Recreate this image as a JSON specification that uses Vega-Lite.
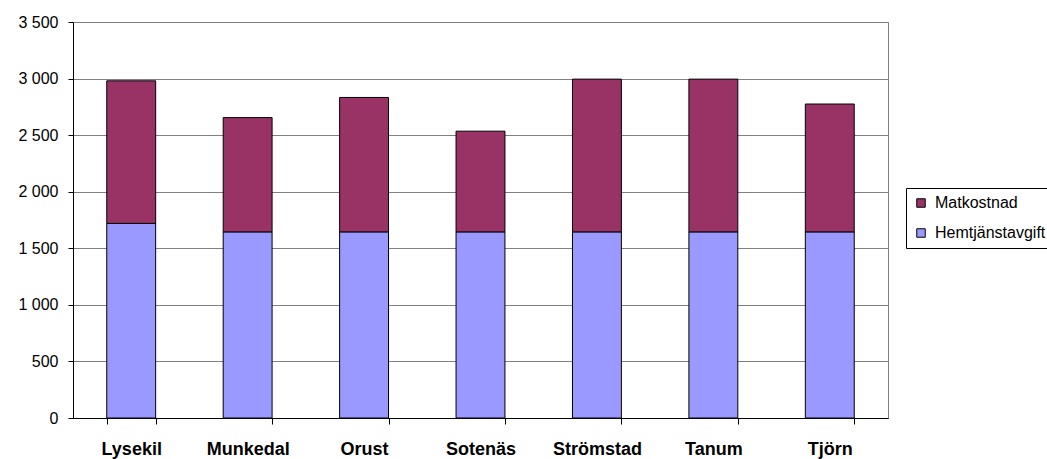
{
  "$schema": "https://vega.github.io/schema/vega-lite/v6.json",
  "autosize": "none",
  "width": 815,
  "height": 396,
  "padding": {"left": 73, "top": 22, "right": 159, "bottom": 41},
  "background": "white",
  "config": {
    "font": "Liberation Sans",
    "view": {"stroke": "#808080", "strokeWidth": 1}
  },
  "data": {
    "values": [
      {"kommun": "Lysekil", "serie": "Hemtjänstavgift", "belopp": 1720},
      {"kommun": "Lysekil", "serie": "Matkostnad", "belopp": 1260},
      {"kommun": "Munkedal", "serie": "Hemtjänstavgift", "belopp": 1645},
      {"kommun": "Munkedal", "serie": "Matkostnad", "belopp": 1010},
      {"kommun": "Orust", "serie": "Hemtjänstavgift", "belopp": 1645},
      {"kommun": "Orust", "serie": "Matkostnad", "belopp": 1188},
      {"kommun": "Sotenäs", "serie": "Hemtjänstavgift", "belopp": 1645},
      {"kommun": "Sotenäs", "serie": "Matkostnad", "belopp": 890},
      {"kommun": "Strömstad", "serie": "Hemtjänstavgift", "belopp": 1645},
      {"kommun": "Strömstad", "serie": "Matkostnad", "belopp": 1350},
      {"kommun": "Tanum", "serie": "Hemtjänstavgift", "belopp": 1645},
      {"kommun": "Tanum", "serie": "Matkostnad", "belopp": 1350},
      {"kommun": "Tjörn", "serie": "Hemtjänstavgift", "belopp": 1645},
      {"kommun": "Tjörn", "serie": "Matkostnad", "belopp": 1130}
    ]
  },
  "mark": {"type": "bar", "stroke": "black", "strokeWidth": 1},
  "encoding": {
    "x": {
      "field": "kommun",
      "type": "nominal",
      "sort": null,
      "scale": {"paddingInner": 0.58, "paddingOuter": 0.29},
      "axis": {
        "title": null,
        "labelAngle": 0,
        "labelFont": "Liberation Sans",
        "labelFontSize": 18,
        "labelFontWeight": "bold",
        "labelColor": "black",
        "labelPadding": 16,
        "tickBand": "extent",
        "tickColor": "black",
        "tickSize": 6,
        "domainColor": "black",
        "grid": false
      }
    },
    "y": {
      "field": "belopp",
      "type": "quantitative",
      "stack": "zero",
      "scale": {"domain": [0, 3500], "nice": false},
      "axis": {
        "title": null,
        "values": [0, 500, 1000, 1500, 2000, 2500, 3000, 3500],
        "labelExpr": "replace(format(datum.value, ','), ',', ' ')",
        "labelFont": "Liberation Sans",
        "labelFontSize": 16,
        "labelColor": "black",
        "labelPadding": 10,
        "tickColor": "black",
        "tickSize": 5,
        "domainColor": "black",
        "grid": true,
        "gridColor": "#808080",
        "gridOpacity": 1
      }
    },
    "color": {
      "field": "serie",
      "type": "nominal",
      "scale": {"domain": ["Matkostnad", "Hemtjänstavgift"], "range": ["#993366", "#9999FF"]},
      "legend": {
        "title": null,
        "orient": "none",
        "legendX": 833,
        "legendY": 166,
        "symbolType": "square",
        "symbolSize": 72,
        "symbolStrokeColor": "black",
        "symbolStrokeWidth": 1,
        "symbolOpacity": 1,
        "labelFont": "Liberation Sans",
        "labelFontSize": 16,
        "labelColor": "black",
        "labelOffset": 6,
        "rowPadding": 14,
        "padding": 7,
        "strokeColor": "black",
        "fillColor": "white"
      }
    },
    "order": {"field": "serie", "sort": "ascending"}
  }
}
